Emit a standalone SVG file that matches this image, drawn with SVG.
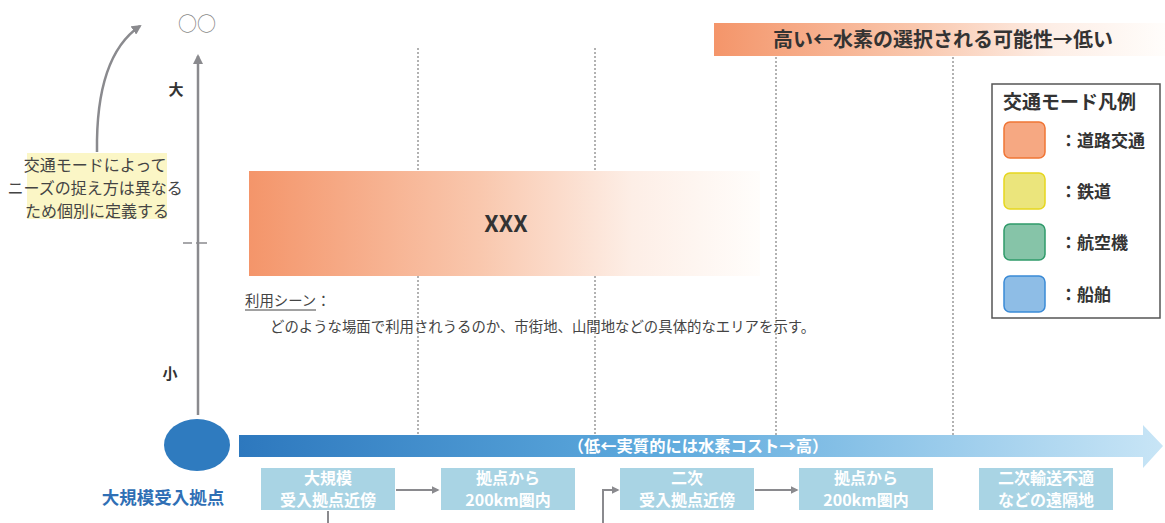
<svg xmlns="http://www.w3.org/2000/svg" width="1165" height="523" viewBox="0 0 1165 523">
<style>
text{font-family:"Noto Sans CJK JP","Noto Sans",sans-serif;}
.b{font-weight:bold;}
.dot{stroke:#999;stroke-width:1.5;stroke-dasharray:2 2;fill:none;}
.gl{stroke:#8a8a8e;stroke-width:2.5;fill:none;}
.box{fill:#a9d4e4;}
.bt{fill:#fff;font-size:16px;font-weight:bold;text-anchor:middle;}
.lg{font-size:17px;font-weight:bold;fill:#333;}
</style>
<defs>
<linearGradient id="og" x1="0" x2="1" y1="0" y2="0">
<stop offset="0" stop-color="#f4956a"/>
<stop offset="0.45" stop-color="#f9c7ad"/>
<stop offset="0.75" stop-color="#fdeee6"/>
<stop offset="1" stop-color="#fffdfb"/>
</linearGradient>
<linearGradient id="bg" x1="0" x2="1" y1="0" y2="0">
<stop offset="0" stop-color="#2d78be"/>
<stop offset="0.45" stop-color="#5eaadd"/>
<stop offset="1" stop-color="#c8e5f6"/>
</linearGradient>
<marker id="ah" viewBox="0 0 10 10" refX="8" refY="5" markerWidth="4" markerHeight="4" orient="auto">
<path d="M0,0 L10,5 L0,10 z" fill="#8a8a8e"/>
</marker>
</defs>

<g id="dotted-lines">
<line class="dot" x1="418" y1="48" x2="418" y2="435"/>
<line class="dot" x1="595" y1="48" x2="595" y2="435"/>
<line class="dot" x1="776" y1="57" x2="776" y2="435"/>
<line class="dot" x1="953" y1="57" x2="953" y2="435"/>
</g>

<g id="banner">
<rect x="714" y="23" width="451" height="33" fill="url(#og)"/>
<text x="943" y="47" class="b" font-size="20" fill="#333" text-anchor="middle">高い←水素の選択される可能性→低い</text>
</g>

<g id="axis">
<line class="gl" x1="198" y1="415" x2="198" y2="56" marker-end="url(#ah)"/>
<text x="197" y="31" font-size="19" fill="#888" text-anchor="middle">○○</text>
<text x="176" y="95" class="b" font-size="15" fill="#333" text-anchor="middle">大</text>
<text x="170" y="379" class="b" font-size="15" fill="#333" text-anchor="middle">小</text>
<line x1="183" y1="243" x2="192" y2="243" stroke="#8a8a8e" stroke-width="1.5"/>
<line x1="196" y1="243" x2="207" y2="243" stroke="#8a8a8e" stroke-width="1.5"/>
</g>

<g id="note">
<path class="gl" d="M97,152 C96,85 112,45 140,26" marker-end="url(#ah)"/>
<rect x="27" y="153" width="140" height="66" fill="#fbf6c6"/>
<text font-size="16" fill="#444" text-anchor="middle">
<tspan x="97" y="171">交通モードによって</tspan>
<tspan x="97" y="194">ニーズの捉え方は異なる</tspan>
<tspan x="97" y="217">ため個別に定義する</tspan>
</text>
</g>

<g id="main-bar">
<rect x="249" y="171" width="511" height="105" fill="url(#og)"/>
<text x="506" y="232" class="b" font-size="23" fill="#333" text-anchor="middle">XXX</text>
</g>

<g id="usage">
<text x="245" y="306" font-size="14.4" fill="#444">利用シーン：</text>
<line x1="245" y1="310" x2="316" y2="310" stroke="#444" stroke-width="1"/>
<text x="270" y="332" font-size="14.4" fill="#444">どのような場面で利用されうるのか、市街地、山間地などの具体的なエリアを示す。</text>
</g>

<g id="legend">
<rect x="992" y="84" width="168" height="234" fill="#fff" stroke="#555" stroke-width="1.5"/>
<text x="1003" y="109" font-size="19" class="b" fill="#333">交通モード凡例</text>
<rect x="1004" y="122" width="41" height="36" rx="6" fill="#f6a882" stroke="#f07535" stroke-width="1.5"/>
<text x="1060" y="147" class="lg">：道路交通</text>
<rect x="1004" y="173" width="41" height="36" rx="6" fill="#ebe57c" stroke="#e6d61e" stroke-width="1.5"/>
<text x="1060" y="198" class="lg">：鉄道</text>
<rect x="1004" y="224" width="41" height="36" rx="6" fill="#86c4a8" stroke="#2f9a6a" stroke-width="1.5"/>
<text x="1060" y="249" class="lg">：航空機</text>
<rect x="1004" y="276" width="41" height="36" rx="6" fill="#8ebde6" stroke="#3a8ad6" stroke-width="1.5"/>
<text x="1060" y="301" class="lg">：船舶</text>
</g>

<g id="hub">
<ellipse cx="197" cy="445" rx="33" ry="26" fill="#2f7bbf"/>
<text x="163" y="504" class="b" font-size="17.5" fill="#2f6fb5" text-anchor="middle">大規模受入拠点</text>
</g>

<g id="cost-arrow">
<path d="M239,435 H1143 V425 L1163,446 L1143,468 V457 H239 Z" fill="url(#bg)"/>
<text x="698" y="452" class="b" font-size="16.3" fill="#fff" text-anchor="middle">（低←実質的には水素コスト→高）</text>
</g>

<g id="box1"><rect class="box" x="261" y="468" width="134" height="42"/><text class="bt"><tspan x="328" y="484">大規模</tspan><tspan x="328" y="506">受入拠点近傍</tspan></text></g>
<g id="box2"><rect class="box" x="441" y="468" width="134" height="42"/><text class="bt"><tspan x="508" y="484">拠点から</tspan><tspan x="508" y="506">200km圏内</tspan></text></g>
<g id="box3"><rect class="box" x="620" y="468" width="134" height="42"/><text class="bt"><tspan x="687" y="484">二次</tspan><tspan x="687" y="506">受入拠点近傍</tspan></text></g>
<g id="box4"><rect class="box" x="799" y="468" width="134" height="42"/><text class="bt"><tspan x="866" y="484">拠点から</tspan><tspan x="866" y="506">200km圏内</tspan></text></g>
<g id="box5"><rect class="box" x="979" y="468" width="134" height="42"/><text class="bt"><tspan x="1046" y="484">二次輸送不適</tspan><tspan x="1046" y="506">などの遠隔地</tspan></text></g>

<g id="connectors">
<line x1="396" y1="490" x2="438" y2="490" stroke="#8a8a8e" stroke-width="2" marker-end="url(#ah)"/>
<line x1="755" y1="490" x2="797" y2="490" stroke="#8a8a8e" stroke-width="2" marker-end="url(#ah)"/>
<path d="M603,523 V490 H618" stroke="#8a8a8e" stroke-width="2" fill="none" marker-end="url(#ah)"/>
<line x1="328" y1="511" x2="328" y2="523" stroke="#8a8a8e" stroke-width="2"/>
</g>
</svg>
